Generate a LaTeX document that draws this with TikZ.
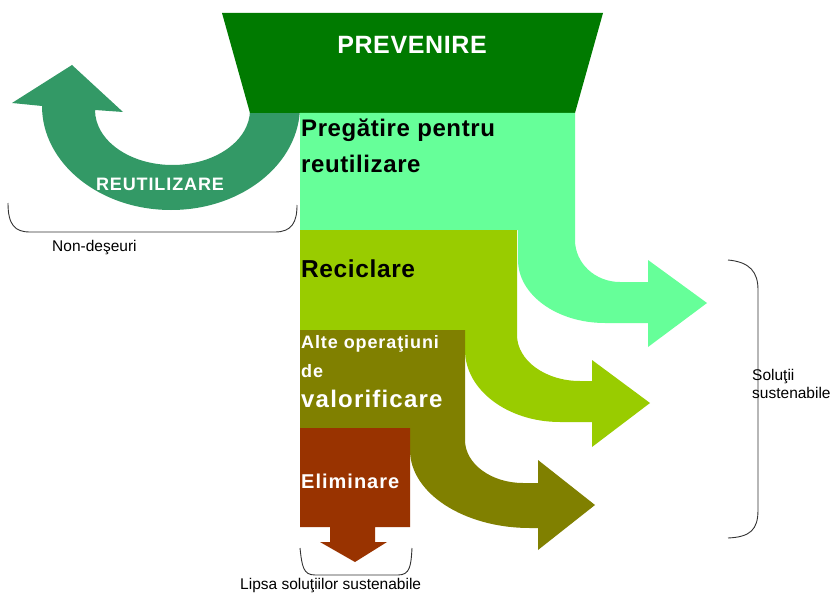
\documentclass[tikz,border=0pt]{standalone}
\usepackage{fontspec}
\setmainfont{Liberation Sans}
\newfontfamily\widefont[LetterSpace=5]{Liberation Sans}
\newfontfamily\blackfont[LetterSpace=2.5]{Liberation Sans}
\usepackage{tikz}

\definecolor{prevgreen}{RGB}{0,122,0}
\definecolor{reusegreen}{RGB}{51,153,102}
\definecolor{mintgreen}{RGB}{102,255,153}
\definecolor{recgreen}{RGB}{153,204,0}
\definecolor{valolive}{RGB}{128,128,0}
\definecolor{elimbrown}{RGB}{153,51,0}

\begin{document}
\begin{tikzpicture}[x=1pt,y=-1pt,
    txt/.style={inner sep=0pt,anchor=base west},
    head/.style={txt,font=\blackfont\bfseries\fontsize{#1}{#1}\selectfont},
    whitehead/.style={txt,white,font=\widefont\bfseries\fontsize{#1}{#1}\selectfont},
    note/.style={txt,font=\fontsize{15.5}{15.5}\selectfont},
    brace/.style={draw=black!80,line width=0.9pt}]
      \useasboundingbox[fill=white] (0,0) rectangle (830,615);
      % reutilizare, U-turn arrow
      \fill[reusegreen] (300,106) .. controls (300,163.4) and (242.2,210) .. (171,210)
        .. controls (99.8,210) and (42,163.4) .. (42,106)
        -- (12,103) -- (72,65) -- (123,112) -- (95,110)
        .. controls (95,140.4) and (129.7,165) .. (172.5,165)
        .. controls (215.3,165) and (250,140.4) .. (250,110) -- cycle;
      % prevenire
      \fill[prevgreen] (222,13) -- (603,13) -- (575,113) -- (250,113) -- cycle;
      % pregatire pentru reutilizare
      \fill[mintgreen] (300,113) -- (575,113) -- (575,240)
        .. controls (575,263.2) and (595.1,282) .. (620,282)
        -- (648,282) -- (648,260) -- (707,303) -- (648,347) -- (648,323) -- (605,323)
        .. controls (557,323) and (518,294.8) .. (518,260)
        -- (518,230) -- (300,230) -- cycle;
      % reciclare
      \fill[recgreen] (300,230) -- (517,230) -- (517,335)
        .. controls (517,360.4) and (545.2,381) .. (580,381)
        -- (592,381) -- (592,360) -- (650,403) -- (592,447) -- (592,422) -- (560,422)
        .. controls (507.5,422) and (465,389.8) .. (465,350)
        -- (465,330) -- (300,330) -- cycle;
      % alte operatiuni de valorificare
      \fill[valolive] (300,330) -- (465,330) -- (465,440)
        .. controls (465,463.7) and (491,483) .. (523,483)
        -- (538,483) -- (538,460) -- (595,505) -- (538,550) -- (538,528) -- (530,528)
        .. controls (463.7,528) and (410,493) .. (410,450)
        -- (410,428) -- (300,428) -- cycle;
      % eliminare
      \fill[elimbrown] (300,428) -- (410,428) -- (410,527) -- (375,527) -- (375,542)
        -- (387,542) -- (355,562) -- (320,542) -- (330,542) -- (330,527) -- (300,527) -- cycle;
      % brackets
      \draw[brace] (8,203) .. controls (8,225) and (15,232) .. (30,232) -- (275,232)
        .. controls (292,232) and (297,222) .. (297,205);
      \draw[brace] (300,548) .. controls (302,566) and (303,575) .. (315,575) -- (398,575)
        .. controls (410,575) and (411,566) .. (412,548);
      \draw[brace] (728,260) .. controls (750,262) and (758,272) .. (758,290) -- (758,510)
        .. controls (758,530) and (750,537) .. (728,538);
      % labels
      \node[head=25,white,anchor=center] (prevenire) at (412,45) {PREVENIRE};
      \node[whitehead=18,anchor=base] (reutilizare) at (160,190) {REUTILIZARE};
      \node[head=24] (pregatire) at (301,137) {Pregătire pentru};
      \node[head=24] (pregatire2) at (301,172) {reutilizare};
      \node[head=24.5] (reciclare) at (301,277) {Reciclare};
      \node[whitehead=18] (alte) at (301,348) {Alte operaţiuni};
      \node[whitehead=18] (alte2) at (301,377) {de};
      \node[whitehead=24] (alte3) at (301,407) {valorificare};
      \node[whitehead=20] (eliminare) at (301,488) {Eliminare};
      \node[note] (nondeseuri) at (52,251) {Non-deşeuri};
      \node[note] (lipsa) at (240,589) {Lipsa soluţiilor sustenabile};
      \node[note] (solutii) at (752,380) {Soluţii};
      \node[note] (solutii2) at (752,398) {sustenabile};
    \end{tikzpicture}
\end{document}
